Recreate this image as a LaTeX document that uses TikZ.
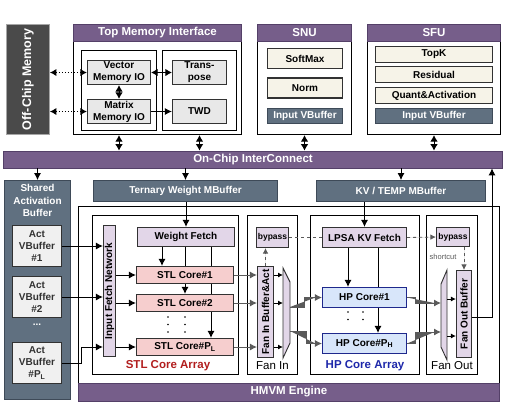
\documentclass[tikz,border=0pt]{standalone}
\usepackage{fontspec}
\setmainfont{Liberation Sans}
\usetikzlibrary{positioning,arrows.meta,calc}
\usepackage{xcolor}

\definecolor{hdrpurple}{RGB}{118,94,138}
\definecolor{hdrline}{RGB}{84,64,104}
\definecolor{offgray}{RGB}{74,74,74}
\definecolor{slate}{RGB}{96,112,128}
\definecolor{slateline}{RGB}{62,74,88}
\definecolor{iogray}{RGB}{232,232,232}
\definecolor{actgray}{RGB}{240,240,240}
\definecolor{cream}{RGB}{246,243,232}
\definecolor{lav}{RGB}{226,214,232}
\definecolor{pinkc}{RGB}{246,206,206}
\definecolor{bluec}{RGB}{216,230,250}
\definecolor{blueline}{RGB}{30,40,140}
\definecolor{boxline}{RGB}{50,50,50}
\definecolor{stlred}{RGB}{178,30,30}
\definecolor{hpblue}{RGB}{30,40,170}
\definecolor{arrgray}{RGB}{90,90,90}

\begin{document}
\begin{tikzpicture}[x=1pt, y=-1pt,
    every node/.style={font=\bfseries\fontsize{10}{12}\selectfont, inner sep=1pt, align=center}, % base text
    frame/.style={draw=black, line width=1.2pt, fill=white}, % outer frames
    titlebar/.style={draw=hdrline, fill=hdrpurple, line width=0.6pt, text=white, font=\bfseries\fontsize{11.5}{13}\selectfont}, % purple bars
    iobox/.style={draw=boxline, fill=iogray, line width=1.2pt}, % memory IO blocks
    funcbox/.style={draw=boxline, fill=cream, line width=1.2pt}, % SNU / SFU units
    bufbox/.style={draw=slateline, fill=slate, line width=0.8pt, text=white}, % buffers
    actbox/.style={draw=boxline, fill=actgray, line width=1.2pt, text=boxline, minimum width=49, minimum height=41}, % Act VBuffer
    lavbox/.style={draw=boxline, fill=lav, line width=1.1pt}, % fetch / bypass
    stlbox/.style={draw=boxline, fill=pinkc, line width=1.1pt, minimum width=97, minimum height=17}, % STL cores
    hpbox/.style={draw=blueline, fill=bluec, line width=1.1pt, minimum width=84, minimum height=20}, % HP cores
    smalltxt/.style={font=\bfseries\fontsize{8.5}{10}\selectfont},
    muxshape/.style={draw=boxline, fill=lav, line width=0.9pt},
    dotcol/.style={line width=1.8pt, line cap=round, dash pattern=on 0pt off 7.5pt}, % vertical dots
    link/.style={line width=1pt},
    arr/.style={-{Latex[length=7pt,width=7pt]}, line width=1pt},
    tiparr/.style={-{Latex[length=5pt,width=5pt]}, line width=0.9pt},
    biarr/.style={{Latex[length=6.5pt,width=7.5pt]}-{Latex[length=6.5pt,width=7.5pt]}, line width=1pt},
    dotarr/.style={biarr, dotted, line width=1.4pt}, % off-chip links
    garr/.style={arr, draw=arrgray, fill=arrgray}, % gray links
    skipline/.style={draw=arrgray, dashed, line width=0.8pt}, % bypass path
    skiparr/.style={skipline, -{Latex[length=5.5pt,width=5.5pt]}, fill=arrgray},
    arrtitle/.style={font=\bfseries\fontsize{11.5}{13}\selectfont}
]
\fill[white] (0,0) rectangle (510,408);
\useasboundingbox (0,0) rectangle (510,408);

% top row
\node[draw=gray!70, fill=offgray, line width=0.8pt, minimum width=43, minimum height=110,
    label={[rotate=90, text=white, font=\bfseries\fontsize{12.5}{14}\selectfont]center:Off-Chip Memory}] (offchip) at (28,79.5) {};

\node[frame, minimum width=168, minimum height=110] (topmem) at (157.5,79.5) {};
\node[titlebar, minimum width=168, minimum height=17] (topmemhdr) at (157.5,32.5) {Top Memory Interface};
\node[draw, line width=1.2pt, minimum width=75, minimum height=80] (ioleft) at (119,90.5) {};
\node[draw, line width=1.2pt, minimum width=74, minimum height=80] (ioright) at (199.5,90.5) {};
\node[iobox, minimum width=63, minimum height=24] (vecio) at (119,72.5) {Vector\\Memory IO};
\node[iobox, minimum width=63, minimum height=24] (matio) at (119,111.5) {Matrix\\Memory IO};
\node[iobox, minimum width=54, minimum height=24] (trans) at (199.5,72.5) {Trans-\\pose};
\node[iobox, minimum width=54, minimum height=24] (twd) at (199.5,111.5) {TWD};

\node[frame, minimum width=94, minimum height=110] (snu) at (304.5,79.5) {};
\node[titlebar, minimum width=94, minimum height=17] (snuhdr) at (304.5,32.5) {SNU};
\node[funcbox, minimum width=75, minimum height=20] (softmax) at (305,58.5) {SoftMax};
\node[funcbox, minimum width=75, minimum height=20] (norm) at (305,88) {Norm};
\node[bufbox, minimum width=75, minimum height=15] (snuin) at (305,116) {Input VBuffer};

\node[frame, minimum width=133, minimum height=110] (sfu) at (434,79.5) {};
\node[titlebar, minimum width=133, minimum height=17] (sfuhdr) at (434,32.5) {SFU};
\node[funcbox, minimum width=117, minimum height=16] (topk) at (434,54.5) {TopK};
\node[funcbox, minimum width=117, minimum height=16] (residual) at (434,74.5) {Residual};
\node[funcbox, minimum width=117, minimum height=16] (quant) at (434,95.5) {Quant\&Activation};
\node[bufbox, minimum width=117, minimum height=15] (sfuin) at (434,116) {Input VBuffer};

\node[titlebar, minimum width=499, minimum height=17] (ic) at (253,159.5) {On-Chip InterConnect};

% shared activation buffer
\node[bufbox, minimum width=66, minimum height=219,
    label={[anchor=north, text=white, yshift=-3pt, font=\bfseries\fontsize{10}{12.5}\selectfont]north:Shared\\Activation\\Buffer}] (shared) at (37.5,290) {};
\node[actbox] (act1) at (37,246) {Act\\VBuffer\\\#1};
\node[actbox] (act2) at (37,297) {Act\\VBuffer\\\#2};
\node[text=white] (actdots) at (37,325) {...};
\node[actbox] (actP) at (37,363) {Act\\VBuffer\\\#P\textsubscript{L}};

\node[bufbox, minimum width=184, minimum height=21] (tern) at (185.5,191) {Ternary Weight MBuffer};
\node[bufbox, minimum width=169, minimum height=21] (kvbuf) at (401,191) {KV / TEMP MBuffer};

% HMVM engine
\node[frame, minimum width=421, minimum height=194] (hmvm) at (289,303.5) {};
\node[titlebar, minimum width=421, minimum height=18] (hmvmhdr) at (289,392) {HMVM Engine};
\node[frame, minimum width=146, minimum height=159] (stlarr) at (165.5,295) {};
\node[frame, minimum width=50, minimum height=159] (fanin) at (272.5,295) {};
\node[frame, minimum width=109, minimum height=159] (hparr) at (365,295) {};
\node[frame, minimum width=51, minimum height=159] (fanout) at (452,295) {};

% STL core array
\node[lavbox, minimum width=12, minimum height=131,
    label={[rotate=90]center:Input Fetch Network}] (ifn) at (109.5,291) {};
\node[lavbox, minimum width=97, minimum height=19] (wfetch) at (186,237) {Weight Fetch};
\node[stlbox] (stl1) at (185,275) {STL Core\#1};
\node[stlbox] (stl2) at (185,303) {STL Core\#2};
\node[stlbox] (stlP) at (185,347) {STL Core\#P\textsubscript{L}};
\draw[dotcol] (168,317) -- (168,333);
\draw[dotcol] (185,317) -- (185,333);
\node[arrtitle, text=stlred] (stltitle) at (168,366) {STL Core Array};

% fan in
\node[lavbox, smalltxt, minimum width=32, minimum height=20] (bypassin) at (272.5,237.5) {bypass};
\node[lavbox, minimum width=16, minimum height=91,
    label={[rotate=90]center:Fan In Buffer\&Act}] (fibuf) at (265.5,312) {};
\draw[muxshape] (283,268) -- (290,282) -- (290,343) -- (283,358) -- cycle;
\coordinate (muxinL) at (283,313);
\coordinate (muxinA) at (290,307);
\coordinate (muxinB) at (290,331);
\node[font=\fontsize{11.5}{13}\selectfont] (fanintitle) at (272.5,366) {Fan In};

% HP core array
\node[lavbox, minimum width=84, minimum height=20] (lpsa) at (364.5,237.5) {LPSA KV Fetch};
\node[hpbox] (hp1) at (364.5,297.5) {HP Core\#1};
\node[hpbox] (hpP) at (364.5,343.5) {HP Core\#P\textsubscript{H}};
\draw[dotcol] (348,312) -- (348,327);
\draw[dotcol] (363,312) -- (363,327);
\node[arrtitle, text=hpblue] (hptitle) at (365,366) {HP Core Array};

% fan out
\node[lavbox, smalltxt, minimum width=33, minimum height=19] (bypassout) at (453,237) {bypass};
\node[font=\fontsize{7.5}{8}\selectfont, text=arrgray] (shortcut) at (443,257) {shortcut};
\node[lavbox, minimum width=15, minimum height=87,
    label={[rotate=90]center:Fan Out Buffer}] (fobuf) at (464,314) {};
\draw[muxshape] (441,284) -- (447,270) -- (447,360) -- (441,347) -- cycle;
\coordinate (muxoutA) at (441,303);
\coordinate (muxoutB) at (441,332);
\coordinate (muxoutC) at (447,299);
\coordinate (muxoutD) at (447,336);
\node[font=\fontsize{11.5}{13}\selectfont] (fanouttitle) at (452,366) {Fan Out};

% memory links
\draw[dotarr] (offchip.east |- vecio) -- (vecio.west);
\draw[dotarr] (offchip.east |- matio) -- (matio.west);
\draw[biarr] (vecio.east) -- (trans.west);
\draw[biarr] (vecio.south) -- (matio.north);
\draw[arr] (matio.east) -- (twd.west);
\draw[biarr] (topmem.south -| vecio) -- (ic.north -| vecio);
\draw[biarr] (topmem.south -| trans) -- (ic.north -| trans);
\draw[biarr] (snu.south) -- (ic.north -| snu);
\draw[biarr] (sfu.south) -- (ic.north -| sfu);

% interconnect to buffers
\draw[arr] (ic.south -| shared) -- (shared.north);
\draw[arr] (ic.south -| tern) -- (tern.north);
\draw[arr] (ic.south -| kvbuf) -- (kvbuf.north);
\draw[arr] (tern.south -| wfetch) -- (wfetch.north);
\draw[arr] (lpsa.north |- kvbuf.south) -- (lpsa.north);

% activations in
\draw[arr] (act1.east) -- (ifn.west |- act1.east);
\draw[arr] (act2.east) -- (ifn.west |- act2.east);
\draw[arr] (actP.east) -- ++(19,0) |- (ifn.west |- stlP);
\draw[arr] (ifn.east |- stl1) -- (stl1.west);
\draw[arr] (ifn.east |- stl2) -- (stl2.west);
\draw[arr] (ifn.east |- stlP) -- (stlP.west);

% weights down
\draw[arr] ([xshift=-23pt]stl1.north |- wfetch.south) -- ([xshift=-23pt]stl1.north);
\draw[link] (wfetch.south -| stl1) -- (stl1.north);
\draw[arr] (stl1.south) -- (stl2.north);
\draw[link] ([xshift=26pt]stl1.north |- wfetch.south) -- ([xshift=26pt]stl1.north);
\draw[link] ([xshift=26pt]stl1.south) -- ([xshift=26pt]stl2.north);
\draw[arr] ([xshift=26pt]stl2.south) -- ([xshift=26pt]stlP.north);

% STL to fan in
\draw[garr] (stl1.east) -- (fibuf.west |- stl1);
\draw[garr] (stl2.east) -- (fibuf.west |- stl2);
\draw[garr] (stlP.east) -- (fibuf.west |- stlP);
\draw[tiparr] (fibuf.east |- stl1) -- (muxinL |- stl1);
\draw[tiparr] (fibuf.east |- stl2) -- (muxinL |- stl2);
\draw[tiparr] (fibuf.east |- stlP) -- (muxinL |- stlP);
\draw[garr] (muxinA) -- ++(14,0) |- (hp1.west);
\draw[garr] (muxinB) -- ++(16,0) |- (hpP.west);

% bypass path
\draw[skiparr] (fibuf.north) -- (fibuf.north |- bypassin.south);
\draw[skipline] (bypassin.east) -- (lpsa.west);
\draw[skiparr] (lpsa.east) -- (bypassout.west);
\draw[skiparr] (fobuf.north |- bypassout.south) -- (fobuf.north);

% HP cores
\draw[arr] ([xshift=-16.5pt]hp1.north |- lpsa.south) -- ([xshift=-16.5pt]hp1.north);
\draw[link] ([xshift=13.5pt]hp1.north |- lpsa.south) -- ([xshift=13.5pt]hp1.north);
\draw[arr] ([xshift=13.5pt]hp1.south) -- ([xshift=13.5pt]hpP.north);
\draw[garr] (hp1.east) -- ++(8,0) |- (muxoutA);
\draw[garr] (hpP.east) -- ++(8,0) |- (muxoutB);
\draw[tiparr] (muxoutC) -- (fobuf.west |- muxoutC);
\draw[tiparr] (muxoutD) -- (fobuf.west |- muxoutD);
\draw[arr] ([yshift=-3pt]fobuf.east) -| ([xshift=239pt]ic.south);
\end{tikzpicture}
\end{document}
